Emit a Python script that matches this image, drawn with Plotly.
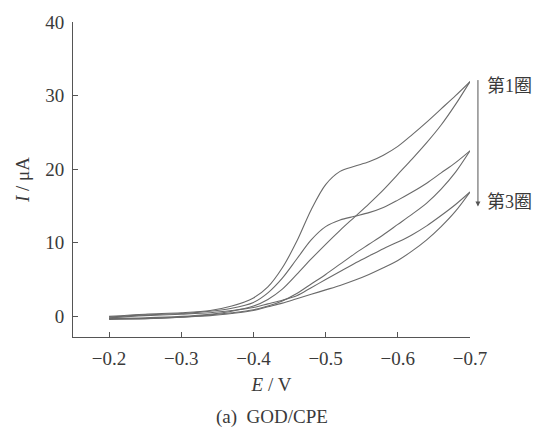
import plotly.graph_objects as go

# Potential grid for the cathodic (forward) sweep, V
potential = [-0.20, -0.25, -0.30, -0.34, -0.37, -0.40, -0.42, -0.44, -0.46, -0.48,
             -0.50, -0.52, -0.54, -0.56, -0.58, -0.60, -0.62, -0.64, -0.66, -0.68, -0.70]

# Current (μA) on the forward sweep, cycles 1-3
fwd_cycle1 = [0.0, 0.3, 0.5, 0.8, 1.4, 2.5, 4.0, 6.6, 10.2, 14.5,
              17.9, 19.7, 20.4, 21.0, 21.9, 23.1, 24.7, 26.4, 28.2, 30.0, 31.9]
fwd_cycle2 = [-0.1, 0.2, 0.4, 0.7, 1.1, 1.9, 3.2, 5.2, 7.8, 10.4,
              12.2, 13.1, 13.6, 14.1, 14.8, 15.8, 16.9, 18.1, 19.5, 20.9, 22.5]
fwd_cycle3 = [-0.2, 0.1, 0.3, 0.5, 0.8, 1.2, 1.7, 2.2, 2.8, 3.9,
              5.0, 6.1, 7.2, 8.2, 9.2, 10.1, 11.1, 12.3, 13.7, 15.2, 16.9]

# Current (μA) on the return sweep, listed on the same potential grid
rev_cycle1 = [-0.3, -0.2, 0.0, 0.3, 0.7, 1.4, 2.3, 3.7, 5.7, 7.8,
              9.8, 11.7, 13.5, 15.3, 17.2, 19.3, 21.4, 23.6, 26.0, 28.8, 31.9]
rev_cycle2 = [-0.3, -0.3, -0.1, 0.2, 0.5, 0.9, 1.4, 2.1, 3.1, 4.4,
              5.7, 7.1, 8.5, 9.8, 11.1, 12.5, 13.9, 15.4, 17.3, 19.6, 22.5]
rev_cycle3 = [-0.4, -0.3, -0.1, 0.1, 0.4, 0.8, 1.3, 1.8, 2.4, 3.0,
              3.6, 4.2, 4.9, 5.7, 6.6, 7.6, 8.9, 10.4, 12.2, 14.3, 16.9]

x_ticks = [-0.2, -0.3, -0.4, -0.5, -0.6, -0.7]
y_ticks = [0, 10, 20, 30, 40]

LINE = "#6a6a6a"
AXIS = "#555555"
TEXT = "#3a3a3a"
SERIF = "Liberation Serif, Times New Roman, serif"
CJK = "Liberation Serif, Noto Sans CJK SC, serif"

fig = go.Figure()
for branch in (fwd_cycle1, rev_cycle1, fwd_cycle2, rev_cycle2, fwd_cycle3, rev_cycle3):
    fig.add_trace(go.Scatter(
        x=potential, y=branch, mode="lines",
        line=dict(color=LINE, width=1.1, shape="spline", smoothing=0.9),
        showlegend=False, hoverinfo="skip",
    ))

axis_common = dict(
    showline=True, linecolor=AXIS, linewidth=1,
    ticks="inside", ticklen=5, tickwidth=1, tickcolor=AXIS,
    showgrid=False, zeroline=False, mirror=False,
    tickfont=dict(family=SERIF, size=19, color=TEXT),
)

fig.update_layout(
    width=542, height=436,
    margin=dict(l=73, r=72, t=18, b=99),
    paper_bgcolor="white", plot_bgcolor="white",
    xaxis=dict(
        range=[-0.15, -0.70], tickvals=x_ticks,
        ticktext=[f"\u2212{abs(v):.1f}" for v in x_ticks],
        ticklabelstandoff=4,
        title=dict(text="<i>E</i> / V", font=dict(family=SERIF, size=19, color=TEXT), standoff=9),
        **axis_common,
    ),
    yaxis=dict(
        range=[-2.8, 40], tickvals=y_ticks,
        ticklabelstandoff=4,
        title=dict(text="<i>I</i> / μA", font=dict(family=SERIF, size=19, color=TEXT), standoff=10),
        **axis_common,
    ),
    annotations=[
        # downward arrow from the first to the third cycle
        dict(x=1.020, y=0.414, xref="paper", yref="paper", ax=0, ay=-128,
             showarrow=True, arrowhead=2, arrowsize=1, arrowwidth=1, arrowcolor=AXIS, text=""),
        dict(x=1.038, y=0.796, xref="paper", yref="paper", text="第1圈", showarrow=False,
             xanchor="left", yanchor="middle", font=dict(family=CJK, size=18, color=TEXT)),
        dict(x=1.038, y=0.430, xref="paper", yref="paper", text="第3圈", showarrow=False,
             xanchor="left", yanchor="middle", font=dict(family=CJK, size=18, color=TEXT)),
        dict(x=0.5, y=-0.255, xref="paper", yref="paper", text="(a)  GOD/CPE", showarrow=False,
             xanchor="center", yanchor="middle", font=dict(family=SERIF, size=19, color=TEXT)),
    ],
)

fig.write_html("out.html")
